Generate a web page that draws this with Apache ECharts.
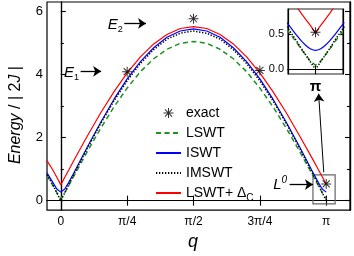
<!DOCTYPE html>
<html>
<head>
<meta charset="utf-8">
<script src="https://cdn.jsdelivr.net/npm/echarts@6/dist/echarts.min.js"></script>
<style>html,body{margin:0;padding:0;background:#fff;}#c{width:354px;height:256px;}</style>
</head>
<body>
<div id="c"></div>
<script>
// q in units of pi
const qMain = [-0.052,-0.03,-0.015,0,0.015,0.03,0.05,0.1,0.15,0.2,0.25,0.3,0.35,0.4,0.45,0.5,0.55,0.6,0.65,0.7,0.75,0.8,0.85,0.9,0.95,0.97,0.985,1.0];
const lswtDC = [1.27,0.97,0.74,0.50,0.74,0.97,1.29,2.05,2.78,3.45,4.05,4.56,4.97,5.27,5.46,5.52,5.46,5.27,4.97,4.56,4.05,3.45,2.78,2.05,1.30,0.99,0.76,0.52];
const iswt   = [0.88,0.58,0.37,0.27,0.37,0.58,0.89,1.70,2.48,3.21,3.86,4.41,4.85,5.18,5.38,5.45,5.38,5.18,4.85,4.41,3.86,3.21,2.48,1.70,0.89,0.58,0.37,0.27];
const imswt  = [0.82,0.51,0.25,0,0.25,0.51,0.84,1.66,2.44,3.16,3.80,4.35,4.79,5.12,5.31,5.38,5.31,5.12,4.79,4.35,3.80,3.16,2.44,1.66,0.84,0.51,0.25,0];
const lswt   = [0.80,0.48,0.25,0.06,0.25,0.48,0.79,1.56,2.29,2.97,3.57,4.09,4.50,4.80,4.99,5.05,4.99,4.80,4.50,4.09,3.57,2.97,2.29,1.56,0.79,0.48,0.25,0.06];

const qInset = [0.964,0.97,0.976,0.982,0.988,0.994,1.0,1.006,1.012,1.018,1.024,1.03,1.036];
const lswtDCInset = [1.09,0.99,0.90,0.80,0.71,0.62,0.52,0.62,0.71,0.80,0.90,0.99,1.09];
const iswtInset   = [0.67,0.58,0.49,0.41,0.34,0.29,0.27,0.29,0.34,0.41,0.49,0.58,0.67];
const imswtInset  = [0.61,0.51,0.41,0.30,0.20,0.10,0,0.10,0.20,0.30,0.41,0.51,0.61];
const lswtInset   = [0.57,0.48,0.39,0.29,0.20,0.11,0.06,0.11,0.20,0.29,0.39,0.48,0.57];

const exactQ = [0.25,0.5,0.75,1.0];
const exactE = [4.09,5.77,4.13,0.53];

const xTickValues = [0,0.25,0.5,0.75,1];
const xTickLabels = ['0','\u03c0/4','\u03c0/2','3\u03c0/4','\u03c0'];
const yTickValues = [0,2,4,6];
const yMinorValues = [1,3,5];
const insetYTicks = [0,0.5];
const insetXTicks = [1];

const pair = (xs, ys) => xs.map((x, i) => [x, ys[i]]);
const STAR = 'path://M-0.1,-1L0.1,-1L0.1,1L-0.1,1ZM-1,-0.1L1,-0.1L1,0.1L-1,0.1ZM-0.778,-0.636L-0.636,-0.778L0.778,0.636L0.636,0.778ZM-0.636,0.778L-0.778,0.636L0.636,-0.778L0.778,-0.636Z';
const FONT = 'Liberation Sans';
const GREEN = '#1e921e';

const chart = echarts.init(document.getElementById('c'), null, {renderer: 'canvas'});

const axisLineStyle = {show: true, lineStyle: {color: '#000', width: 1.2}};
function xAx(grid, pos, min, max, ticks, showLabel, labelOpts) {
  return {
    type: 'value', gridIndex: grid, position: pos, min: min, max: max,
    axisLine: axisLineStyle, splitLine: {show: false},
    axisTick: {show: true, inside: true, length: 5, customValues: ticks, lineStyle: {color: '#000', width: 1.1}},
    axisLabel: Object.assign({show: showLabel, customValues: ticks, color: '#000', fontFamily: FONT}, labelOpts || {})
  };
}
function yAx(grid, pos, min, max, ticks, len, showLabel, labelOpts) {
  return {
    type: 'value', gridIndex: grid, position: pos, min: min, max: max,
    axisLine: axisLineStyle, splitLine: {show: false},
    axisTick: {show: true, inside: true, length: len, customValues: ticks, lineStyle: {color: '#000', width: 1.1}},
    axisLabel: Object.assign({show: showLabel, customValues: ticks, color: '#000', fontFamily: FONT}, labelOpts || {})
  };
}

const xMain = xAx(0, 'bottom', -0.052, 1.0896, xTickValues, true, {
  fontSize: 12, margin: 6,
  formatter: v => { const i = xTickValues.findIndex(t => Math.abs(t - v) < 1e-9); return i >= 0 ? xTickLabels[i] : ''; }
});
xMain.name = 'q';
xMain.nameLocation = 'middle';
xMain.nameGap = 16;
xMain.nameTextStyle = {fontFamily: FONT, fontStyle: 'italic', fontSize: 18, color: '#000', padding: [0, 11, 0, 0]};

const yMain = yAx(0, 'left', -0.3, 6.3, yTickValues, 5, true, {fontSize: 13, margin: 4, formatter: v => String(v)});
yMain.name = '{i|Energy} / | 2{i|J} |';
yMain.nameLocation = 'middle';
yMain.nameGap = 23;
yMain.nameTextStyle = {fontFamily: FONT, fontSize: 16, color: '#000', padding: [0, 18, 0, 0],
  rich: {i: {fontFamily: FONT, fontSize: 16, fontStyle: 'italic', color: '#000'}}};

const noSym = {opacity: 0};
const option = {
  animation: false,
  backgroundColor: '#fff',
  textStyle: {fontFamily: FONT},
  grid: [
    {left: 44, top: 2, right: 4, bottom: 39, show: true, borderColor: '#000', borderWidth: 1.2, backgroundColor: 'transparent'},
    {left: 288, top: 9, width: 55, height: 65, show: true, borderColor: '#222', borderWidth: 1.2, backgroundColor: '#fff'}
  ],
  xAxis: [
    xMain,
    xAx(0, 'top', -0.052, 1.0896, xTickValues, false),
    xAx(1, 'bottom', 0.9656, 1.0344, insetXTicks, true, {fontSize: 15, fontWeight: 'bold', margin: 5, formatter: () => '\u03c0'}),
    xAx(1, 'top', 0.9656, 1.0344, insetXTicks, false)
  ],
  yAxis: [
    yMain,
    yAx(0, 'left', -0.3, 6.3, yMinorValues, 3, false),
    yAx(0, 'right', -0.3, 6.3, yTickValues, 5, false),
    yAx(0, 'right', -0.3, 6.3, yMinorValues, 3, false),
    yAx(1, 'left', -0.067, 0.86, insetYTicks, 3, true, {fontSize: 11, margin: 4, formatter: v => v.toFixed(1)}),
    yAx(1, 'right', -0.067, 0.86, insetYTicks, 3, false)
  ],
  legend: {
    orient: 'vertical', left: 150, top: 98, itemWidth: 25, itemHeight: 10, itemGap: 0,
    data: [
      {name: 'exact'},
      {name: 'LSWT', itemStyle: noSym},
      {name: 'ISWT', itemStyle: noSym},
      {name: 'IMSWT', itemStyle: noSym},
      {name: 'LSWT+ \u0394C', itemStyle: noSym}
    ],
    textStyle: {fontFamily: FONT, fontSize: 14, color: '#000', lineHeight: 20,
      rich: {sub: {fontFamily: FONT, fontSize: 10, color: '#000', lineHeight: 13, verticalAlign: 'bottom'},
             n: {fontFamily: FONT, fontSize: 14, color: '#000', lineHeight: 20}}},
    formatter: name => name === 'LSWT+ \u0394C' ? '{n|LSWT+ \u0394}{sub|C}' : name
  },
  series: [
    {name: 'LSWT', type: 'line', xAxisIndex: 0, yAxisIndex: 0, data: pair(qMain, lswt), showSymbol: false, symbol: 'none',
     lineStyle: {color: GREEN, width: 1.5, type: [5, 3.5]}, itemStyle: {color: GREEN}, z: 2},
    {name: 'ISWT', type: 'line', xAxisIndex: 0, yAxisIndex: 0, data: pair(qMain, iswt), showSymbol: false, symbol: 'none',
     lineStyle: {color: '#0000ff', width: 1.2}, itemStyle: {color: '#0000ff'}, z: 3},
    {name: 'IMSWT', type: 'line', xAxisIndex: 0, yAxisIndex: 0, data: pair(qMain, imswt), showSymbol: false, symbol: 'none',
     lineStyle: {color: '#000', width: 1.5, type: [1.3, 1.7]}, itemStyle: {color: '#000'}, z: 4},
    {name: 'LSWT+ \u0394C', type: 'line', xAxisIndex: 0, yAxisIndex: 0, data: pair(qMain, lswtDC), showSymbol: false, symbol: 'none',
     lineStyle: {color: '#ff0000', width: 1.2}, itemStyle: {color: '#ff0000'}, z: 5},
    {name: 'exact', type: 'scatter', xAxisIndex: 0, yAxisIndex: 0, data: pair(exactQ, exactE), symbol: STAR, symbolSize: 10,
     itemStyle: {color: '#000'}, z: 6,
     markLine: {
       silent: true, symbol: ['none', 'arrow'], symbolSize: 8, label: {show: false},
       lineStyle: {color: '#000', width: 1.3, type: 'solid'},
       data: [
         [{coord: [0.0746, 4.10]}, {coord: [0.152, 4.10]}],
         [{coord: [0.239, 5.62]}, {coord: [0.321, 5.62]}],
         [{coord: [0.862, 0.51]}, {coord: [0.950, 0.51]}],
         [{coord: [0.9907, 0.90], lineStyle: {width: 1}}, {coord: [0.9713, 3.39]}]
       ]
     },
     markArea: {
       silent: true, itemStyle: {color: 'rgba(0,0,0,0)', borderColor: '#666', borderWidth: 1.2},
       data: [[{coord: [0.950, 0.816]}, {coord: [1.0336, -0.104]}]]
     },
     markPoint: {
       silent: true, symbol: 'circle', symbolSize: 1, itemStyle: {color: 'rgba(0,0,0,0)'},
       label: {show: true, position: 'left', distance: 1, color: '#000',
         rich: {
           e: {fontFamily: FONT, fontSize: 15, fontStyle: 'italic', color: '#000', lineHeight: 18},
           sb: {fontFamily: FONT, fontSize: 9, color: '#000', lineHeight: 12, verticalAlign: 'bottom'},
           sp: {fontFamily: FONT, fontSize: 10, fontStyle: 'italic', color: '#000', lineHeight: 12, verticalAlign: 'top'}
         }},
       data: [
         {coord: [0.0746, 4.05], label: {formatter: '{e|E}{sb|1}'}},
         {coord: [0.239, 5.57], label: {formatter: '{e|E}{sb|2}'}},
         {coord: [0.862, 0.51], label: {formatter: '{e|L}{sp|0}', distance: 2}}
       ]
     }
    },
    // inset
    {name: 'LSWT inset', type: 'line', xAxisIndex: 2, yAxisIndex: 4, data: pair(qInset, lswtInset), showSymbol: false, symbol: 'none',
     lineStyle: {color: GREEN, width: 1.5, type: [5, 3.5]}, z: 12},
    {name: 'ISWT inset', type: 'line', xAxisIndex: 2, yAxisIndex: 4, data: pair(qInset, iswtInset), showSymbol: false, symbol: 'none', smooth: 0.3,
     lineStyle: {color: '#0000ff', width: 1.2}, z: 13},
    {name: 'IMSWT inset', type: 'line', xAxisIndex: 2, yAxisIndex: 4, data: pair(qInset, imswtInset), showSymbol: false, symbol: 'none',
     lineStyle: {color: '#000', width: 1.5, type: [1.3, 1.7]}, z: 14},
    {name: 'LSWT+ inset', type: 'line', xAxisIndex: 2, yAxisIndex: 4, data: pair(qInset, lswtDCInset), showSymbol: false, symbol: 'none',
     lineStyle: {color: '#ff0000', width: 1.2}, z: 15},
    {name: 'exact inset', type: 'scatter', xAxisIndex: 2, yAxisIndex: 4, data: [[exactQ[3], exactE[3]]], symbol: STAR, symbolSize: 10,
     itemStyle: {color: '#000'}, z: 16}
  ]
};
chart.setOption(option);
</script>
</body>
</html>
